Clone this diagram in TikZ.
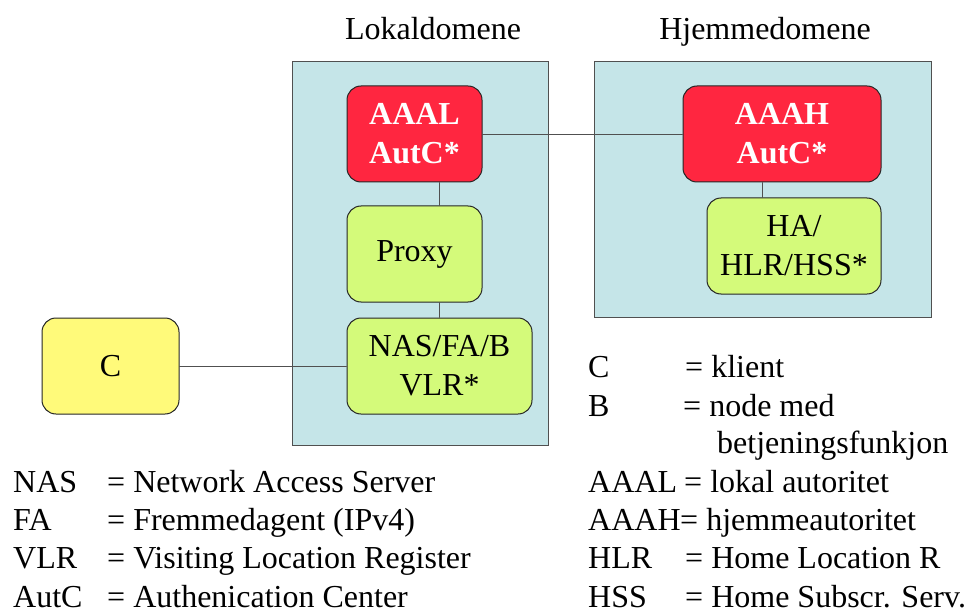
\documentclass[tikz,border=0pt]{standalone}
\usepackage{fontspec}
\setmainfont{Liberation Serif}
\usetikzlibrary{positioning}
\definecolor{domenebla}{RGB}{197,229,232}
\definecolor{aaarod}{RGB}{255,38,64}
\definecolor{nodegronn}{RGB}{212,250,122}
\definecolor{klientgul}{RGB}{255,250,122}
\definecolor{strek}{RGB}{80,80,80}

\begin{document}
\begin{tikzpicture}[x=1pt, y=-1pt, line cap=round,
  every node/.style={font=\fontsize{32}{39}\selectfont},
  dom/.style={draw=strek, fill=domenebla, line width=1pt, inner sep=0pt},
  boks/.style={draw=black!85, rounded corners=14pt, line width=1pt, inner sep=0pt, align=center, minimum height=96},
  aaa/.style={boks, fill=aaarod, text=white, font=\fontsize{32}{39}\selectfont\bfseries},
  gronn/.style={boks, fill=nodegronn},
  lbl/.style={anchor=base west, inner sep=0pt}]
  \useasboundingbox (0,0) rectangle (965,612);
  % domener
  \node[dom, minimum width=256, minimum height=383] (lokal) at (420,253.5) {};
  \node[dom, minimum width=337, minimum height=255] (hjem) at (762.5,189.5) {};
  \node[anchor=base, inner sep=0pt] (lokaltit) at (433,40) {Lokaldomene};
  \node[anchor=base, inner sep=0pt] (hjemtit) at (765,40) {Hjemmedomene};
  % noder
  \node[aaa, minimum width=135] (aaal) at (414.5,134) {AAAL\\AutC*};
  \node[gronn, minimum width=135] (proxy) at (414.5,254) {Proxy};
  \node[gronn, minimum width=185] (nas) at (439.5,366) {NAS/FA/B\\VLR*};
  \node[aaa, minimum width=198] (aaah) at (782,134) {AAAH\\AutC*};
  \node[gronn, minimum width=174] (ha) at (794,246) {HA/\\HLR/HSS*};
  \node[boks, fill=klientgul, minimum width=137] (c) at (110.5,366) {C};
  % forbindelser
  \begin{scope}[draw=strek, line width=0.8pt]
    \draw (aaal.east) -- (aaah.west);
    \draw (nas.north |- aaal.south) -- (nas.north |- proxy.north);
    \draw (nas.north |- proxy.south) -- (nas.north);
    \draw (hjem.center |- aaah.south) -- (hjem.center |- ha.north);
    \draw (c.east) -- (nas.west);
  \end{scope}
  % forklaring
  \foreach \y/\fork/\tekst [count=\i] in {492/NAS/Network Access Server, 530/FA/Fremmedagent (IPv4), 568/VLR/Visiting Location Register, 607/AutC/Authenication Center} {
    \node[lbl] (vf\i) at (13,\y) {\fork};
    \node[lbl] (vt\i) at (107,\y) {= \tekst};
  }
  \foreach \y/\fork/\x/\tekst [count=\i] in {377/C/685/klient, 416/B/683/node med, 492/AAAL/684/lokal autoritet, 530/AAAH/680/hjemmeautoritet, 568/HLR/685/Home Location R, 607/HSS/685/Home Subscr. Serv.} {
    \node[lbl] (hf\i) at (588,\y) {\fork};
    \node[lbl] (ht\i) at (\x,\y) {= \tekst};
  }
  \node[lbl] (betj) at (717,453) {betjeningsfunkjon};
\end{tikzpicture}
\end{document}
